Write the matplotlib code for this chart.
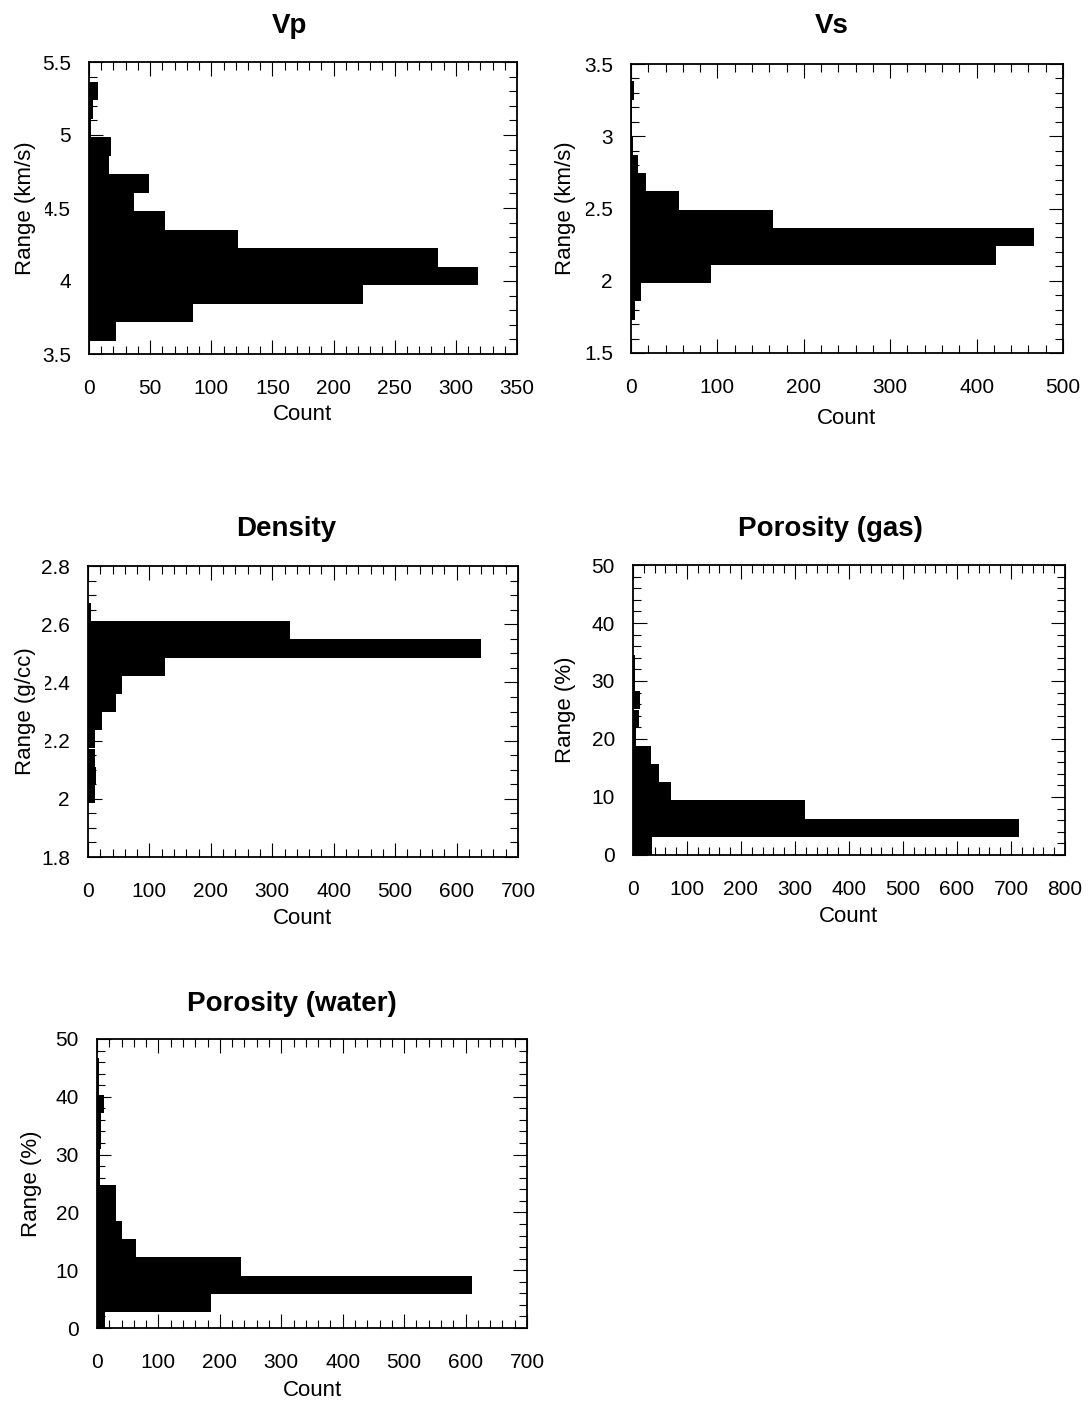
import numpy as np
import matplotlib
matplotlib.use("Agg")
import matplotlib.pyplot as plt
from matplotlib.ticker import MultipleLocator, FormatStrFormatter

plt.rcParams['font.family'] = ['Liberation Sans', 'DejaVu Sans']

W, H = 1091, 1402

# histogram bins: lower edge of each bin (bottom -> top) and counts
vp_edges = [3.591, 3.718, 3.844, 3.971, 4.097, 4.224, 4.351, 4.477, 4.604, 4.730, 4.857, 4.984, 5.110, 5.237]
vp_counts = [22, 85, 224, 318, 285, 122, 62, 37, 49, 16, 18, 2, 3, 7]
vp_width = 0.1266

vs_edges = [1.731, 1.858, 1.985, 2.111, 2.238, 2.365, 2.492, 2.619, 2.745, 2.872, 2.999, 3.126, 3.253]
vs_counts = [5, 12, 93, 423, 466, 164, 55, 17, 8, 2, 1, 1, 4]
vs_width = 0.1268

rho_edges = [1.985, 2.048, 2.110, 2.173, 2.235, 2.298, 2.360, 2.423, 2.485, 2.548, 2.610]
rho_counts = [12, 13, 12, 11, 22, 46, 55, 126, 640, 329, 5]
rho_width = 0.0625

phig_edges = [0.0, 3.14, 6.27, 9.41, 12.54, 15.68, 18.82, 21.95, 25.09, 28.22, 31.36]
phig_counts = [35, 715, 318, 70, 48, 34, 5, 12, 13, 4, 4]
phig_width = 3.136

phiw_edges = [-0.31, 2.82, 5.95, 9.08, 12.21, 15.34, 18.47, 21.6, 24.73, 27.86, 30.99, 34.12, 37.25, 40.38, 43.51]
phiw_counts = [13, 185, 611, 235, 64, 40, 31, 31, 5, 5, 6, 6, 11, 3, 4]
phiw_width = 3.13

fig = plt.figure(figsize=(W / 100, H / 100), dpi=100)


def px_axes(l, t, r, b):
    return fig.add_axes([l / W, 1 - b / H, (r - l) / W, (b - t) / H])


def panel(box, edges, counts, width, xmax, xstep, xminor, ylim, ystep, yminor,
          title, title_xy, ylabel, ylab_x, xlab_y):
    l, t, r, b = box
    ax = px_axes(l, t, r, b)
    ax.barh(edges, counts, height=width, align='edge', color='black', linewidth=0)
    ax.set_xlim(0, xmax)
    ax.set_ylim(*ylim)
    ax.xaxis.set_major_locator(MultipleLocator(xstep))
    ax.xaxis.set_minor_locator(MultipleLocator(xminor))
    ax.yaxis.set_major_locator(MultipleLocator(ystep))
    ax.yaxis.set_minor_locator(MultipleLocator(yminor))
    ax.yaxis.set_major_formatter(FormatStrFormatter('%g'))
    ax.tick_params(which='both', direction='in', top=True, right=True,
                   width=0.8, labelsize=15, color='black')
    ax.tick_params(which='major', length=10)
    ax.tick_params(which='minor', length=5.5)
    ax.tick_params(axis='x', pad=18)
    ax.tick_params(axis='y', pad=13)
    for s in ax.spines.values():
        s.set_linewidth(1.3)

    ax.set_xlabel('Count', fontsize=16)
    ax.xaxis.label.set_va('center')
    ax.xaxis.set_label_coords(0.5, -(xlab_y - b) / (b - t))

    # white box behind the label hides part of the nearest tick label
    ax.set_ylabel(ylabel, fontsize=16,
                  bbox=dict(facecolor='white', edgecolor='none', pad=6.5))
    ax.yaxis.label.set_va('center')
    ax.yaxis.set_label_coords((ylab_x - l) / (r - l), 0.5)

    fig.text(title_xy[0] / W, 1 - title_xy[1] / H, title, fontsize=20,
             fontweight='bold', ha='center', va='center')
    return ax


panel((89, 62, 517, 354), vp_edges, vp_counts, vp_width, 350, 50, 10,
      (3.5, 5.5), 0.5, 0.1, 'Vp', (290, 26), 'Range (km/s)', 25, 415)
panel((631, 64, 1063, 353), vs_edges, vs_counts, vs_width, 500, 100, 20,
      (1.5, 3.5), 0.5, 0.1, 'Vs', (832, 26), 'Range (km/s)', 566, 418)
panel((88, 566, 518, 857), rho_edges, rho_counts, rho_width, 700, 100, 20,
      (1.8, 2.8), 0.2, 0.05, 'Density', (286, 529), 'Range (g/cc)', 25, 918)
panel((633, 565, 1065, 855), phig_edges, phig_counts, phig_width, 800, 100, 20,
      (0, 50), 10, 2, 'Porosity (gas)', (830, 529), 'Range (%)', 566, 917)
panel((97, 1039, 527, 1328), phiw_edges, phiw_counts, phiw_width, 700, 100, 20,
      (0, 50), 10, 2, 'Porosity (water)', (292, 1004), 'Range (%)', 31, 1390)

fig.savefig('out.png', dpi=100)
